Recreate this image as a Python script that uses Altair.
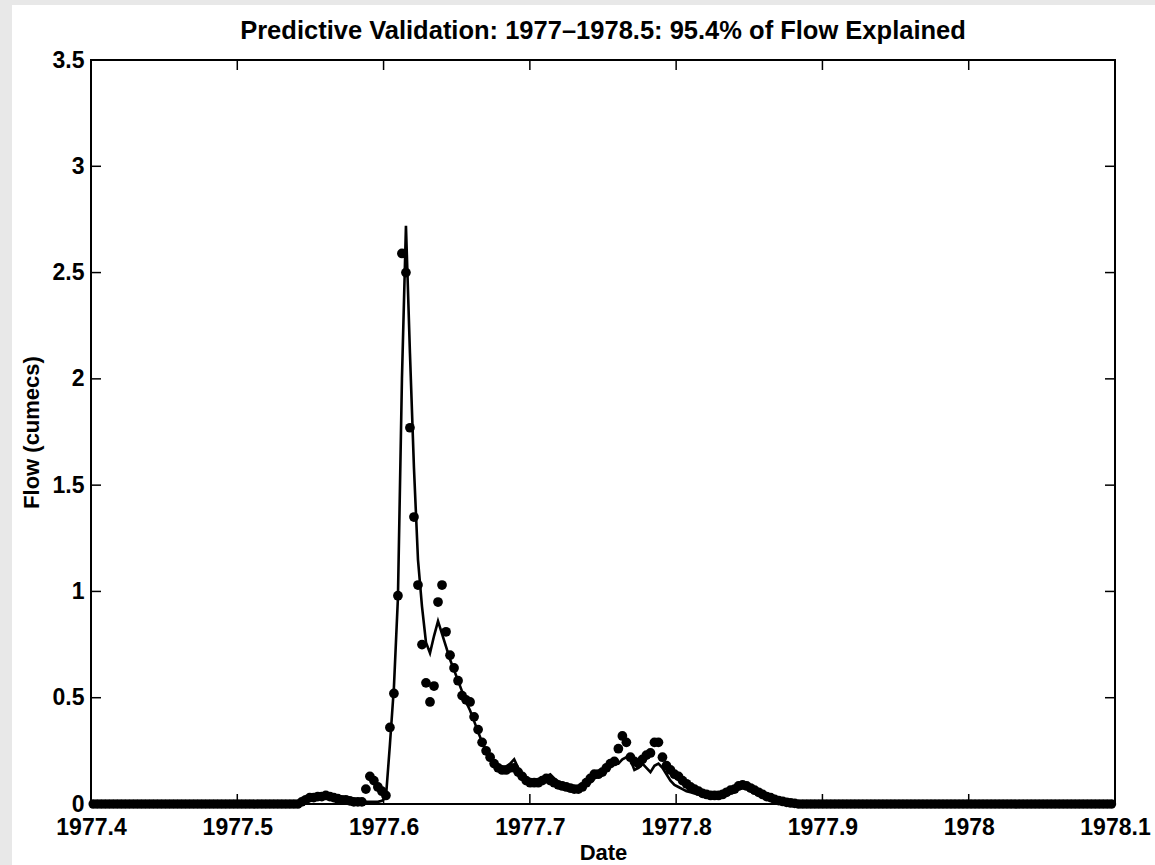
import altair as alt
import pandas as pd

# Daily sampling grid (decimal years)
START_YEAR = 1977.4016
DAYS_PER_YEAR = 365.0

# Observed flow (cumecs), one value per day
observed = [
    0, 0, 0, 0, 0, 0, 0, 0, 0, 0, 0, 0, 0, 0, 0, 0, 0, 0, 0, 0,
    0, 0, 0, 0, 0, 0, 0, 0, 0, 0, 0, 0, 0, 0, 0, 0, 0, 0, 0, 0,
    0, 0, 0, 0, 0, 0, 0, 0, 0, 0, 0, 0,
    0.01, 0.02, 0.03, 0.03, 0.035, 0.035, 0.04, 0.035, 0.03, 0.025,
    0.02, 0.02, 0.015, 0.01, 0.01, 0.01, 0.07, 0.13, 0.11, 0.08,
    0.06, 0.04, 0.36, 0.52, 0.98, 2.59, 2.50, 1.77, 1.35, 1.03,
    0.75, 0.57, 0.48, 0.555, 0.95, 1.03, 0.81, 0.70, 0.64, 0.58,
    0.51, 0.49, 0.48, 0.41, 0.35, 0.29, 0.25, 0.22, 0.19, 0.17,
    0.16, 0.16, 0.17, 0.17, 0.15, 0.13, 0.11, 0.10, 0.10, 0.10,
    0.11, 0.12, 0.11, 0.10, 0.09, 0.085, 0.08, 0.075, 0.07, 0.07,
    0.08, 0.10, 0.12, 0.14, 0.14, 0.15, 0.17, 0.19, 0.20, 0.26,
    0.32, 0.29, 0.22, 0.20, 0.19, 0.21, 0.23, 0.24, 0.29, 0.29,
    0.22, 0.18, 0.16, 0.14, 0.13, 0.11, 0.095, 0.08, 0.07, 0.06,
    0.05, 0.045, 0.04, 0.04, 0.04, 0.045, 0.055, 0.065, 0.07, 0.085,
    0.09, 0.085, 0.075, 0.065, 0.055, 0.045, 0.035, 0.03, 0.022, 0.016,
    0.012, 0.008, 0.005, 0.003,
    0, 0, 0, 0, 0, 0, 0, 0, 0, 0, 0, 0, 0, 0, 0, 0, 0, 0, 0, 0,
    0, 0, 0, 0, 0, 0, 0, 0, 0, 0, 0, 0, 0, 0, 0, 0, 0, 0, 0, 0,
    0, 0, 0, 0, 0, 0, 0, 0, 0, 0, 0, 0, 0, 0, 0, 0, 0, 0, 0, 0,
    0, 0, 0, 0, 0, 0, 0, 0, 0, 0, 0, 0, 0, 0, 0, 0, 0, 0, 0,
]

# Predicted (model) flow (cumecs), one value per day
predicted = [
    0, 0, 0, 0, 0, 0, 0, 0, 0, 0, 0, 0, 0, 0, 0, 0, 0, 0, 0, 0,
    0, 0, 0, 0, 0, 0, 0, 0, 0, 0, 0, 0, 0, 0, 0, 0, 0, 0, 0, 0,
    0, 0, 0, 0, 0, 0, 0, 0, 0, 0, 0, 0,
    0.005, 0.01, 0.02, 0.025, 0.03, 0.03, 0.03, 0.03, 0.025, 0.02,
    0.02, 0.015, 0.01, 0.01, 0.01, 0.01, 0.01, 0.01, 0.01, 0.01,
    0.015, 0.03, 0.28, 0.55, 0.97, 2.0, 2.72, 2.12, 1.58, 1.15,
    0.93, 0.76, 0.71, 0.79, 0.86, 0.80, 0.74, 0.68, 0.63, 0.58,
    0.53, 0.48, 0.44, 0.39, 0.34, 0.29, 0.25, 0.22, 0.19, 0.17,
    0.16, 0.17, 0.19, 0.21, 0.17, 0.14, 0.12, 0.11, 0.10, 0.11,
    0.12, 0.13, 0.14, 0.12, 0.10, 0.09, 0.08, 0.075, 0.07, 0.07,
    0.075, 0.09, 0.10, 0.12, 0.13, 0.15, 0.17, 0.18, 0.19, 0.19,
    0.21, 0.22, 0.21, 0.16, 0.17, 0.19, 0.17, 0.15, 0.18, 0.19,
    0.17, 0.14, 0.11, 0.09, 0.08, 0.07, 0.06, 0.055, 0.05, 0.045,
    0.04, 0.035, 0.035, 0.035, 0.04, 0.045, 0.05, 0.06, 0.065, 0.07,
    0.075, 0.075, 0.07, 0.06, 0.05, 0.04, 0.03, 0.025, 0.02, 0.015,
    0.01, 0.008, 0.005, 0.003,
    0, 0, 0, 0, 0, 0, 0, 0, 0, 0, 0, 0, 0, 0, 0, 0, 0, 0, 0, 0,
    0, 0, 0, 0, 0, 0, 0, 0, 0, 0, 0, 0, 0, 0, 0, 0, 0, 0, 0, 0,
    0, 0, 0, 0, 0, 0, 0, 0, 0, 0, 0, 0, 0, 0, 0, 0, 0, 0, 0, 0,
    0, 0, 0, 0, 0, 0, 0, 0, 0, 0, 0, 0, 0, 0, 0, 0, 0, 0, 0,
]

x_ticks = [1977.4, 1977.5, 1977.6, 1977.7, 1977.8, 1977.9, 1978.0, 1978.1]
y_ticks = [0, 0.5, 1, 1.5, 2, 2.5, 3, 3.5]
X_DOMAIN = [1977.4, 1978.1]
Y_DOMAIN = [0, 3.5]

TITLE = "Predictive Validation: 1977\u20131978.5: 95.4% of Flow Explained"
FONT = "Liberation Sans"

n = len(observed)
dates = [START_YEAR + i / DAYS_PER_YEAR for i in range(n)]
df = pd.DataFrame({"date": dates, "observed": observed, "predicted": predicted})

W, H = 1024, 744
xs = alt.Scale(domain=X_DOMAIN, nice=False, zero=False)
ys = alt.Scale(domain=Y_DOMAIN, nice=False)

one = pd.DataFrame({"title": [TITLE]})

# light grey page edges (top and left) of the original screenshot
strip_top = alt.Chart(one).mark_rect(fill="#e8e8e8").encode(
    x=alt.value(-91), x2=alt.value(1064), y=alt.value(-60), y2=alt.value(-55))
strip_left = alt.Chart(one).mark_rect(fill="#e8e8e8").encode(
    x=alt.value(-91), x2=alt.value(-79), y=alt.value(-60), y2=alt.value(805))

title = alt.Chart(one).mark_text(
    font=FONT, fontSize=25.5, fontWeight="bold", color="black",
    align="center", baseline="alphabetic",
).encode(text="title:N", x=alt.value(W / 2), y=alt.value(-21))

points = alt.Chart(df).mark_circle(color="black", size=95, opacity=1).encode(
    x=alt.X("date:Q", scale=xs, title="Date",
            axis=alt.Axis(values=x_ticks, format="~g")),
    y=alt.Y("observed:Q", scale=ys, title="Flow (cumecs)",
            axis=alt.Axis(values=y_ticks, format="~g")),
)

line = alt.Chart(df).mark_line(color="black", strokeWidth=2.6).encode(
    x=alt.X("date:Q", scale=xs, title="Date"),
    y=alt.Y("predicted:Q", scale=ys, title="Flow (cumecs)"),
)

xt = pd.DataFrame({"x": x_ticks})
yt = pd.DataFrame({"y": y_ticks})
TL = 10
xtick_bottom = alt.Chart(xt).mark_rule(color="black", strokeWidth=1.5).encode(
    x=alt.X("x:Q", scale=xs, title="Date"), y=alt.value(H), y2=alt.value(H - TL))
xtick_top = alt.Chart(xt).mark_rule(color="black", strokeWidth=1.5).encode(
    x=alt.X("x:Q", scale=xs, title="Date"), y=alt.value(0), y2=alt.value(TL))
ytick_left = alt.Chart(yt).mark_rule(color="black", strokeWidth=1.5).encode(
    y=alt.Y("y:Q", scale=ys, title="Flow (cumecs)"), x=alt.value(0), x2=alt.value(TL))
ytick_right = alt.Chart(yt).mark_rule(color="black", strokeWidth=1.5).encode(
    y=alt.Y("y:Q", scale=ys, title="Flow (cumecs)"), x=alt.value(W), x2=alt.value(W - TL))

chart = alt.layer(
    strip_top, strip_left, title,
    points, line, xtick_bottom, xtick_top, ytick_left, ytick_right,
).properties(
    width=W, height=H,
    autosize=alt.AutoSizeParams(type="none"),
    padding={"left": 91, "top": 60, "right": 40, "bottom": 61},
    background="white",
).configure_view(
    stroke="black", strokeWidth=2,
).configure_axis(
    domain=False, ticks=False, grid=False, labelFlush=False,
    labelFont=FONT, labelFontSize=23, labelFontWeight="bold", labelColor="black",
    titleFont=FONT, titleFontSize=22, titleFontWeight="bold", titleColor="black",
).configure_axisX(
    labelPadding=12, titlePadding=3,
).configure_axisY(
    labelPadding=7, titlePadding=9,
)

chart.save("out.html", embed_options={"renderer": "svg", "actions": False})
